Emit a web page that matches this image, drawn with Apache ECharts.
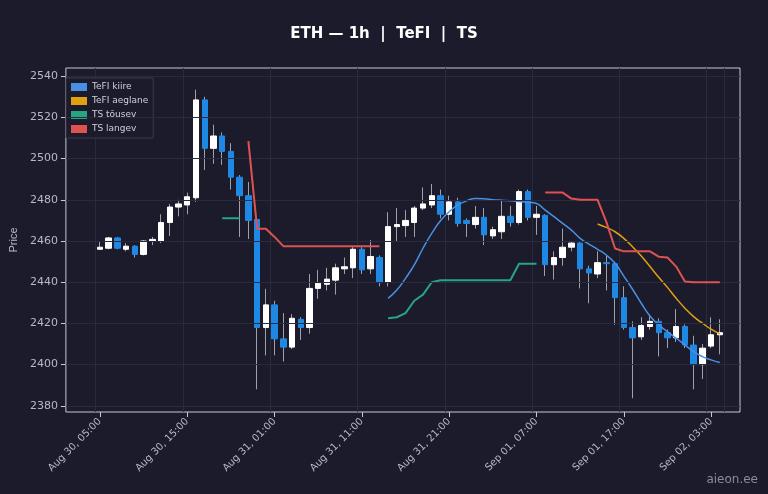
<!DOCTYPE html>
<html><head><meta charset="utf-8">
<script src="https://cdn.jsdelivr.net/npm/echarts@6/dist/echarts.min.js"></script>
<style>html,body{margin:0;padding:0;background:#1b1b2b;}#c{width:768px;height:494px;}</style>
</head><body><div id="c"></div>
<script>
// time labels (hourly from Aug 30 05:00)
const times = [];
(function(){let d=30,h=5;for(let i=0;i<72;i++){const m=d>31?'Sep':'Aug';const dd=d>31?d-31:d;times.push(m+' '+String(dd).padStart(2,'0')+', '+String(h).padStart(2,'0')+':00');h++;if(h===24){h=0;d++;}}})();
const opens  = [2456,2456.5,2461.5,2456,2457.5,2453.5,2460,2460,2469,2476.5,2477.5,2481,2528.5,2505,2511,2503.5,2491,2482,2470.5,2418,2429,2412.5,2408.5,2422,2418,2437,2439,2441,2446.5,2447,2456,2446.5,2452,2440,2467,2467.5,2469,2476,2477.5,2482,2473,2479,2470,2468,2471.5,2462.5,2464.5,2472,2469,2484,2471.5,2472.5,2448.5,2452,2457,2459,2446.5,2444,2449.5,2449,2432.5,2418,2413.5,2418.5,2421,2415.5,2413,2418.5,2409.5,2400,2409,2414.5];
const closes = [2457,2461.5,2456.5,2457.5,2453.5,2460,2460.8,2469,2476.5,2478,2481.5,2528.5,2505,2511,2503.5,2491,2482,2470,2418,2429,2412.5,2408.5,2422.5,2418,2437,2439.5,2441.5,2447,2447.5,2456,2446,2452.5,2440,2467,2468,2470,2476,2478,2482,2473,2479,2468.5,2468.5,2471.5,2463,2465.5,2472,2469,2484,2471.5,2473,2448.5,2452,2457,2459,2446.5,2444.5,2449.5,2449,2432.5,2418,2413,2419,2421,2415.5,2413,2418.5,2409.5,2400,2408,2414.5,2415.5];
const lows   = [2456,2456,2456,2455,2452,2453,2458,2459,2462.5,2472,2473,2479,2494.5,2497.5,2497,2485,2462,2461,2388,2404.5,2404.5,2401.5,2407.5,2412,2415,2432,2436,2434,2444,2442,2444,2444,2438,2438,2460,2462,2462,2475,2476,2471,2470,2467,2462,2466,2458,2461,2461,2467,2468,2470,2463,2443,2441.3,2448,2455,2437,2429.8,2442,2436,2419.3,2417,2383.7,2412,2417,2404,2408,2411,2408,2388,2393,2408,2405];
const highs  = [2460,2462,2462,2459,2458,2460.5,2462,2473,2478,2480,2483.5,2533.5,2530,2516.5,2512.7,2507.5,2492,2488.7,2471,2436.8,2431,2425,2424.5,2423,2444,2446,2447,2449,2452,2457,2457,2460.5,2453,2474,2476,2475,2477,2486,2487.7,2485,2482,2481,2471,2477,2476,2467,2480,2477,2485,2485,2477,2473,2455,2466,2460,2460,2448,2455,2453,2450,2438,2421,2423,2424,2422.5,2417,2427,2419.5,2414,2410,2423,2422];
const tefiKiire = Array(33).fill(null).concat([2432.2,2436.2,2441.9,2448.4,2456.5,2463.7,2469.8,2474.2,2477.5,2479.5,2480.6,2480.5,2480,2479.8,2479.5,2479.2,2478.8,2478.2,2475,2471.8,2468.6,2465.3,2461.3,2458.5,2456,2453.2,2449.2,2443,2436.6,2429.8,2423.6,2419.3,2416,2412.8,2409.6,2406.3,2403.9,2402.3,2401]);
const tefiAeglane = Array(57).fill(null).concat([2468.3,2466.6,2464.5,2461.3,2457.2,2452.7,2447.6,2442.4,2437.5,2432.2,2427.4,2423.3,2420.1,2417.2,2414.9]);
const tsTousev = Array(14).fill(null).concat([2471,2471,2471],Array(16).fill(null),[2422.5,2423,2425,2431,2434,2440,2441,2441,2441,2441,2441,2441,2441,2441,2441,2449,2449,2449],Array(21).fill(null));
const tsLangev = Array(17).fill(null).concat([2508.5,2466,2466,2462,2457.5,2457.5,2457.5,2457.5,2457.5,2457.5,2457.5,2457.5,2457.5,2457.5,2457.5,2457.5],Array(18).fill(null),[2483.5,2483.5,2483.5,2480.6,2480,2480,2480,2469.3,2456.4,2455,2455,2455,2455,2452.4,2452,2447.6,2440.3,2440,2440,2440,2440]);
const yTicks = [2380,2400,2420,2440,2460,2480,2500,2520,2540];

const bodies = opens.map((o,i)=>[o,closes[i],Math.min(o,closes[i]),Math.max(o,closes[i])]);
const wicks = opens.map((o,i)=>[o,closes[i],lows[i],highs[i]]);
const txt = '#b8b8c8';
const gridCol = '#2a2a3e';
const chart = echarts.init(document.getElementById('c'));
chart.setOption({
  backgroundColor:'#1b1b2b',
  animation:false,
  title:{text:'ETH — 1h  |  TeFI  |  TS',left:'center',top:22,textStyle:{color:'#ffffff',fontSize:15,fontWeight:'bold',fontFamily:'DejaVu Sans'}},
  graphic:[{type:'text',right:10,bottom:8,style:{text:'aieon.ee',fill:'#8a8a9a',fontSize:12,fontFamily:'DejaVu Sans'}}],
  legend:{left:66,top:78,orient:'vertical',itemWidth:16,itemHeight:8,itemGap:4,padding:[4,5],
    backgroundColor:'#1b1b2b',borderColor:'#3a3a4e',borderWidth:1,
    textStyle:{color:'#d0d0d8',fontSize:9,fontFamily:'DejaVu Sans',lineHeight:10},
    data:[{name:'TeFI kiire',icon:'rect'},{name:'TeFI aeglane',icon:'rect'},{name:'TS tõusev',icon:'rect'},{name:'TS langev',icon:'rect'}]},
  grid:[
    {left:60,right:28,top:68,bottom:82,show:true,borderColor:'#c8c8d0',borderWidth:1,backgroundColor:'#1b1b2b'},
    {left:95.6,right:43.8,top:68,bottom:82}
  ],
  xAxis:[
    {gridIndex:0,type:'category',data:['a'],show:false},
    {gridIndex:1,type:'category',data:times,boundaryGap:true,
    axisLine:{show:false},axisTick:{show:true,interval:9,alignWithLabel:true,length:5,lineStyle:{color:'#c8c8d0'}},
    axisLabel:{interval:9,rotate:45,color:txt,fontSize:10,fontFamily:'DejaVu Sans',margin:8},
    splitLine:{show:true,interval:9,lineStyle:{color:gridCol}}}
  ],
  yAxis:[
    {gridIndex:0,type:'value',min:2377,max:2544,name:'Price',nameLocation:'middle',nameGap:44,nameTextStyle:{color:txt,fontSize:11},
    axisLine:{show:false},
    axisTick:{show:true,customValues:yTicks,lineStyle:{color:'#c8c8d0'}},
    axisLabel:{customValues:yTicks,color:txt,fontSize:11,fontFamily:'DejaVu Sans',formatter:v=>String(v)},
    splitLine:{show:false}},
    {gridIndex:1,type:'value',min:2377,max:2544,show:false,splitLine:{show:false}}
  ],
  series:[
    {type:'line',xAxisIndex:0,yAxisIndex:0,silent:true,data:[null],markLine:{symbol:'none',silent:true,label:{show:false},lineStyle:{color:gridCol,type:'solid',width:1},data:yTicks.map(v=>({yAxis:v}))}},
    {type:'candlestick',name:'w',xAxisIndex:1,yAxisIndex:1,data:wicks,barWidth:1,itemStyle:{color:'#a0a0a8',color0:'#a0a0a8',borderColor:'#a0a0a8',borderColor0:'#a0a0a8',borderWidth:1},z:2},
    {type:'candlestick',name:'c',xAxisIndex:1,yAxisIndex:1,data:bodies,barWidth:'68%',itemStyle:{color:'#ffffff',color0:'#1e88e5',borderColor:'#ffffff',borderColor0:'#1e88e5',borderWidth:1},z:3},
    {type:'line',name:'TeFI kiire',xAxisIndex:1,yAxisIndex:1,data:tefiKiire,smooth:true,showSymbol:false,lineStyle:{color:'#4a90e2',width:1.5},itemStyle:{color:'#4a90e2'},z:4},
    {type:'line',name:'TeFI aeglane',xAxisIndex:1,yAxisIndex:1,data:tefiAeglane,smooth:true,showSymbol:false,lineStyle:{color:'#e0a010',width:1.5},itemStyle:{color:'#e0a010'},z:4},
    {type:'line',name:'TS tõusev',xAxisIndex:1,yAxisIndex:1,data:tsTousev,showSymbol:false,lineStyle:{color:'#26a585',width:2},itemStyle:{color:'#26a585'},z:4},
    {type:'line',name:'TS langev',xAxisIndex:1,yAxisIndex:1,data:tsLangev,showSymbol:false,lineStyle:{color:'#e05252',width:2},itemStyle:{color:'#e05252'},z:5}
  ]
});
</script></body></html>
